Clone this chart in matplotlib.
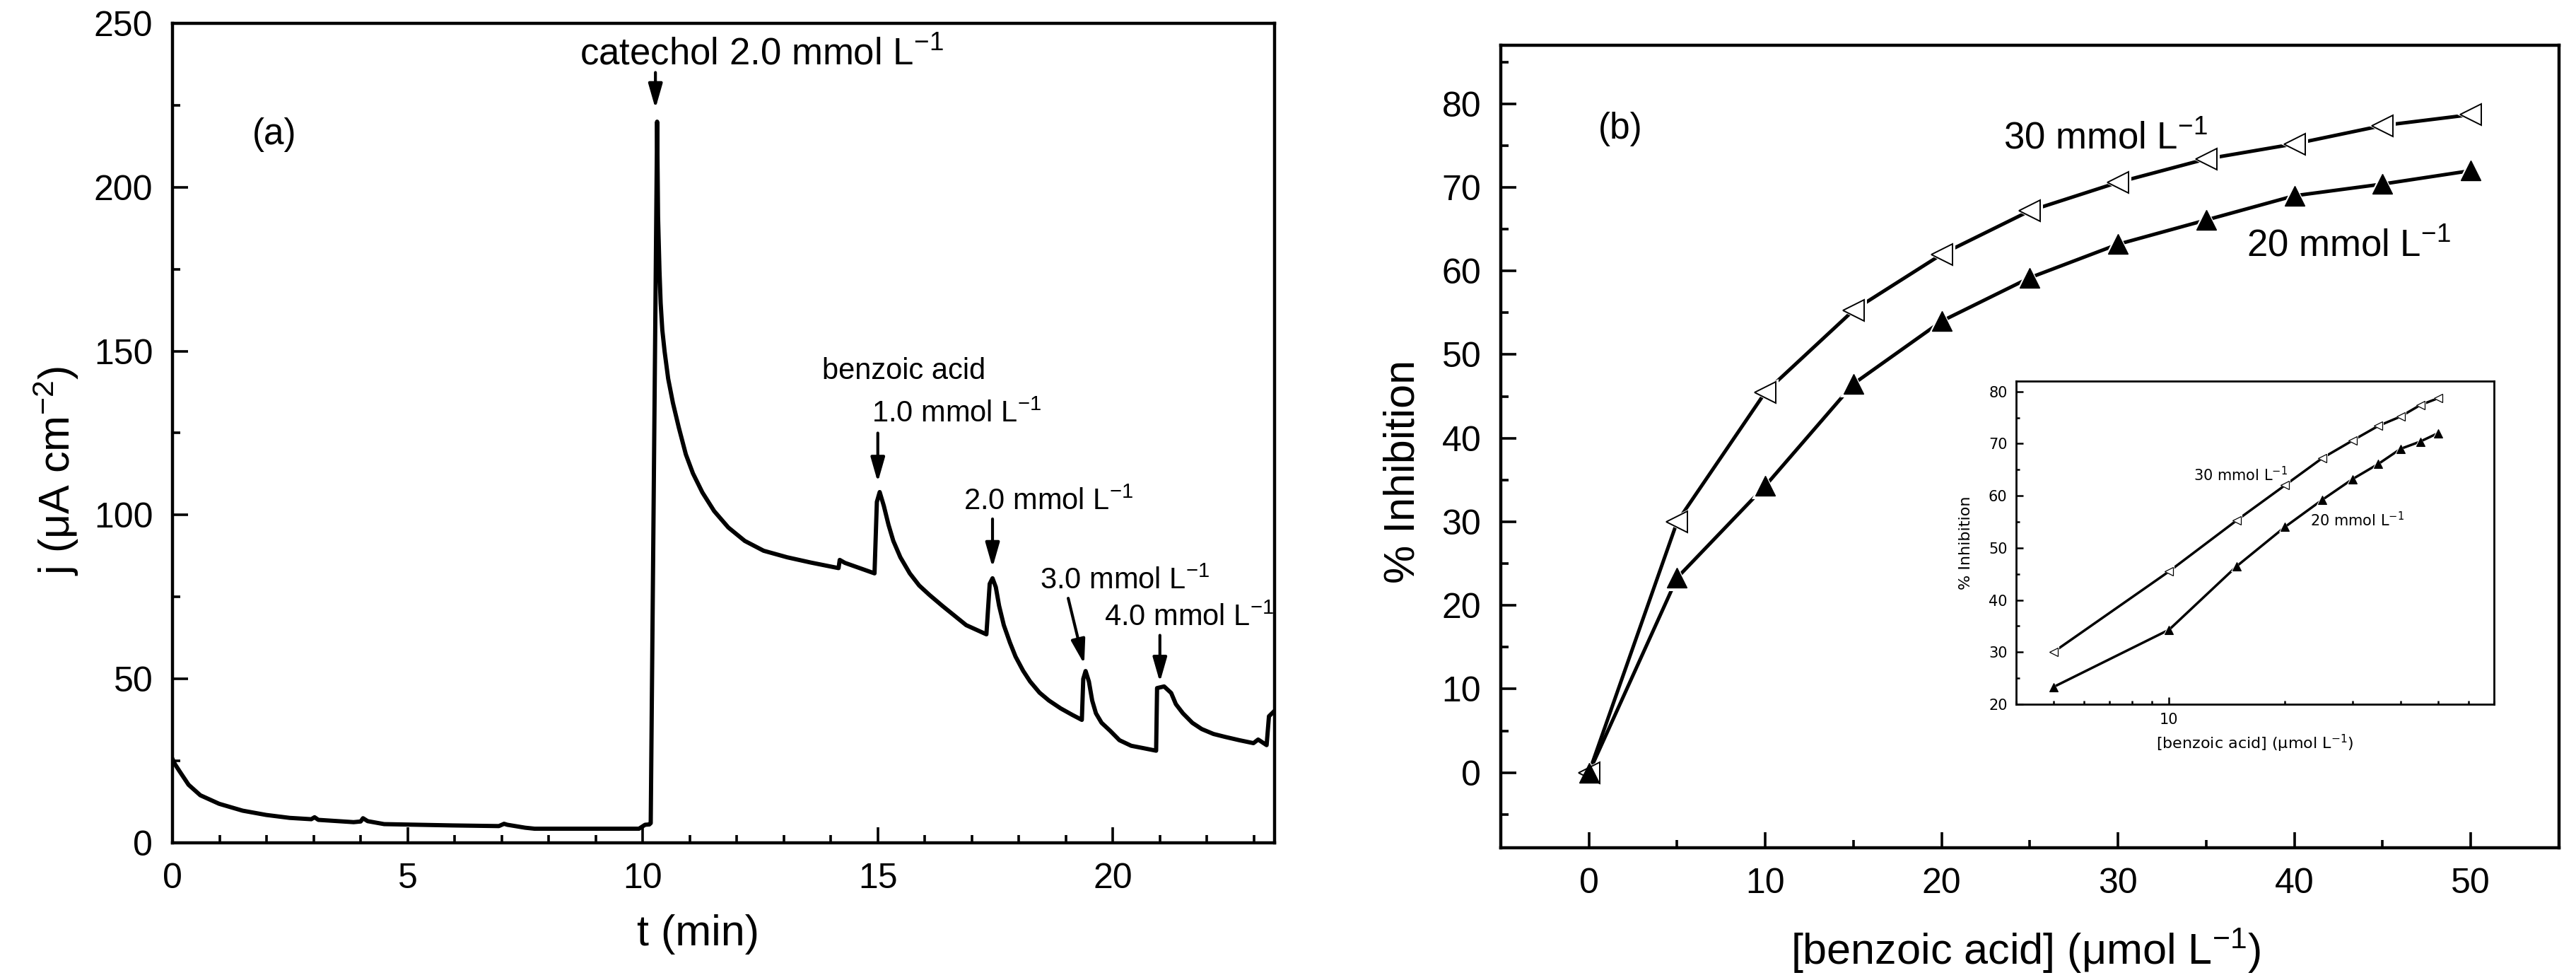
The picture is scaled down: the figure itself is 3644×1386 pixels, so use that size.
import matplotlib
matplotlib.use('Agg')
import matplotlib.pyplot as plt
from matplotlib.ticker import MultipleLocator, LogLocator, NullFormatter, FormatStrFormatter

plt.rcParams['font.family'] = ['Liberation Sans', 'DejaVu Sans']
plt.rcParams['mathtext.default'] = 'regular'

# (a) chronoamperometric trace
t_min = [0, 0.05, 0.14, 0.34, 0.59, 0.99, 1.49, 1.99, 2.49, 2.95, 3.02, 3.1, 3.85, 4.0,
         4.05, 4.15, 4.5, 5.95, 6.94, 7.05, 7.12, 7.5, 7.7, 9.92, 10.05, 10.14, 10.17,
         10.306, 10.326, 10.356, 10.381, 10.416, 10.466, 10.541, 10.642, 10.767, 10.917,
         11.068, 11.268, 11.519, 11.82, 12.17, 12.571, 13.072, 13.574, 14.165, 14.19,
         14.3, 14.93, 14.98, 15.04, 15.128, 15.228, 15.33, 15.48, 15.68, 15.88, 16.1,
         16.38, 16.88, 17.31, 17.38, 17.44, 17.51, 17.58, 17.68, 17.81, 17.93, 18.09,
         18.24, 18.44, 18.64, 18.89, 19.14, 19.34, 19.37, 19.42, 19.49, 19.56, 19.64,
         19.76, 19.94, 20.14, 20.39, 20.64, 20.92, 20.94, 21.09, 21.24, 21.34, 21.49,
         21.69, 21.89, 22.14, 22.39, 22.69, 22.99, 23.09, 23.27, 23.32, 23.42]
j_uA = [25.5, 24.0, 22.0, 17.7, 14.5, 11.9, 9.8, 8.5, 7.6, 7.2, 7.8, 7.0, 6.3, 6.5,
        7.5, 6.6, 5.7, 5.3, 5.1, 5.8, 5.5, 4.6, 4.3, 4.3, 5.5, 5.6, 6.0,
        220.0, 191.0, 174.6, 164.7, 156.5, 149.8, 141.6, 134.2, 126.7, 118.5,
        112.7, 106.9, 101.2, 96.2, 92.1, 89.1, 87.1, 85.5, 83.8, 86.3,
        85.4, 82.2, 104.0, 107.0, 102.8, 97.0, 92.1, 87.1, 82.2, 78.5, 75.6,
        72.2, 66.4, 63.6, 79.0, 80.7, 78.0, 72.3, 66.4, 61.1, 56.8, 52.5,
        49.2, 45.8, 43.4, 41.0, 39.0, 37.5, 50.0, 52.4, 49.2, 43.4, 39.5,
        36.6, 34.2, 31.3, 29.6, 28.9, 28.1, 47.2, 47.7, 45.7, 42.3, 39.5,
        36.6, 34.7, 33.2, 32.3, 31.3, 30.4, 31.5, 29.8, 38.6, 40.0]

# (b) inhibition vs benzoic acid
conc = [0, 5, 10, 15, 20, 25, 30, 35, 40, 45, 50]
inh_30 = [0, 30.0, 45.5, 55.3, 62.0, 67.2, 70.6, 73.4, 75.2, 77.4, 78.7]
inh_20 = [0, 23.3, 34.3, 46.5, 54.0, 59.2, 63.2, 66.1, 69.0, 70.4, 72.0]

fig = plt.figure(figsize=(36.44, 13.86), dpi=100)

TICK = 36
LAB = 44


def style(ax, major_len=16, minor_len=8, width=2.6, pad=20, size=TICK):
    for s in ax.spines.values():
        s.set_linewidth(3.2)
    ax.tick_params(which='both', direction='in', top=False, right=False,
                   width=width, labelsize=size, pad=pad)
    ax.tick_params(which='major', length=major_len)
    ax.tick_params(which='minor', length=minor_len)


# ---------------- panel (a)
ax1 = fig.add_axes([0.0670, 0.1400, 0.4278, 0.8362])
ax1.plot(t_min, j_uA, color='black', lw=4.3, solid_joinstyle='round')
ax1.set_xlim(0, 23.44)
ax1.set_ylim(0, 250)
ax1.xaxis.set_major_locator(MultipleLocator(5))
ax1.xaxis.set_minor_locator(MultipleLocator(1))
ax1.yaxis.set_major_locator(MultipleLocator(50))
ax1.yaxis.set_minor_locator(MultipleLocator(25))
style(ax1)
ax1.set_xlabel('t (min)', fontsize=LAB)
ax1.set_ylabel('j (μA cm$^{-2}$)', fontsize=LAB)
ax1.xaxis.label.set_va('center')
ax1.yaxis.label.set_va('center')
ax1.xaxis.set_label_coords(0.477, -0.112)
ax1.yaxis.set_label_coords(-0.106, 0.454)

ax1.text(2.16, 216, '(a)', fontsize=37, ha='center', va='center')
ax1.text(8.66, 237.3, 'catechol 2.0 mmol L$^{-1}$', fontsize=38, va='baseline')
ax1.text(13.82, 141.6, 'benzoic acid', fontsize=30, va='baseline')
ax1.text(14.87, 128.4, '1.0 mmol L$^{-1}$', fontsize=30, va='baseline')
ax1.text(16.83, 101.6, '2.0 mmol L$^{-1}$', fontsize=30, va='baseline')
ax1.text(18.44, 77.5, '3.0 mmol L$^{-1}$', fontsize=30, va='baseline')
ax1.text(19.81, 66.3, '4.0 mmol L$^{-1}$', fontsize=30, va='baseline')

arrow = dict(arrowstyle='-|>,head_length=0.7,head_width=0.2', color='black',
             lw=3, mutation_scale=30, shrinkA=0, shrinkB=0)
for tip, tail in [((10.27, 224), (10.27, 235)),
                  ((15.0, 110), (15.0, 125)),
                  ((17.44, 84), (17.44, 98.8)),
                  ((19.39, 54.5), (19.05, 74.6)),
                  ((21.0, 49.0), (21.0, 63.3))]:
    ax1.annotate('', xy=tip, xytext=tail, arrowprops=arrow)

# ---------------- panel (b)
ax2 = fig.add_axes([0.5826, 0.1349, 0.4108, 0.8189])
ax2.plot(conc, inh_30, color='black', lw=3.6, zorder=2)
ax2.plot(conc, inh_20, color='black', lw=3.6, zorder=2)
ax2.plot(conc, inh_30, ls='none', marker='<', ms=28, color='white', mew=0, zorder=3)
ax2.plot(conc, inh_20, ls='none', marker='^', ms=27, color='white', mew=0, zorder=3)
ax2.plot(conc, inh_30, ls='none', marker='<', ms=21, mfc='white', mec='black',
         mew=1.4, zorder=4)
ax2.plot(conc, inh_20, ls='none', marker='^', ms=20, mfc='black', mec='black',
         mew=1.0, zorder=4)
ax2.set_xlim(-5, 55)
ax2.set_ylim(-9, 87)
ax2.xaxis.set_major_locator(MultipleLocator(10))
ax2.xaxis.set_minor_locator(MultipleLocator(5))
ax2.yaxis.set_major_locator(MultipleLocator(10))
ax2.yaxis.set_minor_locator(MultipleLocator(5))
style(ax2, major_len=16, minor_len=8, pad=20)
ax2.set_yticks(range(0, 81, 10))
ax2.set_xlabel('[benzoic acid] (μmol L$^{-1}$)', fontsize=LAB)
ax2.set_ylabel('% Inhibition', fontsize=LAB)
ax2.xaxis.label.set_va('center')
ax2.yaxis.label.set_va('center')
ax2.xaxis.set_label_coords(0.496, -0.128)
ax2.yaxis.set_label_coords(-0.092, 0.469)

ax2.text(1.8, 77, '(b)', fontsize=37, ha='center', va='center')
ax2.text(23.5, 74.6, '30 mmol L$^{-1}$', fontsize=38, va='baseline')
ax2.text(37.3, 61.8, '20 mmol L$^{-1}$', fontsize=38, va='baseline')

# ---------------- inset (log x)
INS = ['DejaVu Sans']
ax3 = fig.add_axes([0.78266, 0.28139, 0.18551, 0.32972])
ax3.plot(conc[1:], inh_30[1:], color='black', lw=2.5, zorder=2)
ax3.plot(conc[1:], inh_20[1:], color='black', lw=2.5, zorder=2)
ax3.plot(conc[1:], inh_30[1:], ls='none', marker='<', ms=12, color='white', mew=0, zorder=3)
ax3.plot(conc[1:], inh_20[1:], ls='none', marker='^', ms=12, color='white', mew=0, zorder=3)
ax3.plot(conc[1:], inh_30[1:], ls='none', marker='<', ms=8, mfc='white', mec='black',
         mew=0.9, zorder=4)
ax3.plot(conc[1:], inh_20[1:], ls='none', marker='^', ms=8, mfc='black', mec='black',
         mew=0.8, zorder=4)
ax3.set_xscale('log')
ax3.set_xlim(4, 70)
ax3.set_ylim(20, 82)
ax3.xaxis.set_major_locator(LogLocator(base=10))
ax3.xaxis.set_major_formatter(FormatStrFormatter('%g'))
ax3.xaxis.set_minor_locator(LogLocator(base=10, subs=range(2, 10)))
ax3.xaxis.set_minor_formatter(NullFormatter())
ax3.yaxis.set_major_locator(MultipleLocator(10))
ax3.yaxis.set_minor_locator(MultipleLocator(5))
for s in ax3.spines.values():
    s.set_linewidth(2)
ax3.tick_params(which='both', direction='in', top=False, right=False, width=1.8,
                labelsize=15, pad=9)
ax3.tick_params(which='major', length=7)
ax3.tick_params(which='minor', length=3.5)
for lab in ax3.get_xticklabels() + ax3.get_yticklabels():
    lab.set_family(INS)
ax3.set_xlabel('[benzoic acid] (μmol L$^{-1}$)', fontsize=16, family=INS, labelpad=6)
ax3.set_ylabel('% Inhibition', fontsize=16, family=INS, labelpad=16)
ax3.text(11.6, 62.9, '30 mmol L$^{-1}$', fontsize=15, family=INS, va='baseline')
ax3.text(23.3, 54.1, '20 mmol L$^{-1}$', fontsize=15, family=INS, va='baseline')

fig.savefig('out.png', dpi=100)
